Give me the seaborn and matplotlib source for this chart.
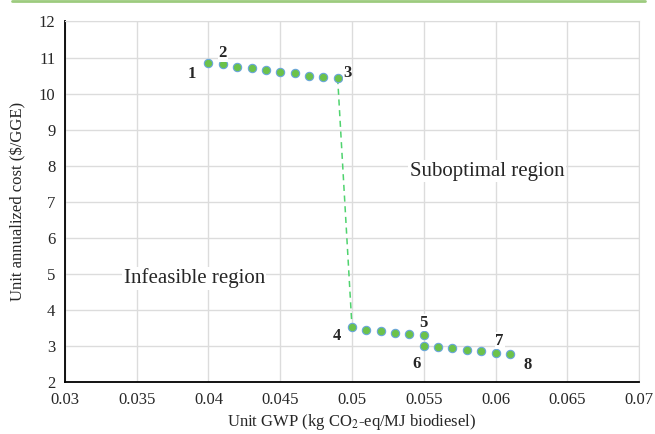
import matplotlib
matplotlib.use("Agg")
import matplotlib.pyplot as plt
import seaborn as sns
import pandas as pd
from matplotlib.lines import Line2D

# Data
gwp_upper = [0.040, 0.041, 0.042, 0.043, 0.044, 0.045, 0.046, 0.047, 0.048, 0.049]
cost_upper = [10.86, 10.81, 10.74, 10.70, 10.66, 10.60, 10.57, 10.50, 10.46, 10.43]
gwp_lower = [0.050, 0.051, 0.052, 0.053, 0.054, 0.055,
             0.055, 0.056, 0.057, 0.058, 0.059, 0.060, 0.061]
cost_lower = [3.52, 3.45, 3.42, 3.36, 3.33, 3.30,
              3.01, 2.97, 2.94, 2.89, 2.85, 2.80, 2.77]
point_labels = ["1", "2", "3", "4", "5", "6", "7", "8"]
label_idx = [("u", 0), ("u", 1), ("u", 9), ("l", 0), ("l", 5), ("l", 6), ("l", 11), ("l", 12)]
label_offsets = [(-12, -8), (0, 8), (7, 4), (-11, -6), (0, 9), (-5, -13), (3, 9), (13, -8)]
x_ticks = [0.03, 0.035, 0.04, 0.045, 0.05, 0.055, 0.06, 0.065, 0.07]
x_tick_labels = ["0.03", "0.035", "0.04", "0.045", "0.05", "0.055", "0.06", "0.065", "0.07"]
y_ticks = list(range(2, 13))

df = pd.DataFrame({"gwp": gwp_upper + gwp_lower, "cost": cost_upper + cost_lower})

sns.set_style("white")
plt.rcParams["font.family"] = ["Liberation Serif", "DejaVu Serif"]
plt.rcParams["mathtext.fontset"] = "stix"

fig = plt.figure(figsize=(6.55, 4.34), dpi=100)
ax = fig.add_axes([0.0992, 0.1198, 0.8764, 0.8307])

# dashed jump
sns.lineplot(x=[gwp_upper[-1], gwp_lower[0]], y=[cost_upper[-1], cost_lower[0]], ax=ax,
             color="#4FD36E", linestyle=(0, (4, 3)), linewidth=1.1, zorder=2)

sns.scatterplot(data=df, x="gwp", y="cost", ax=ax, color="#6CC24A", edgecolor="#6AA6DA",
                linewidth=0.8, s=36, zorder=3)

for lab, (grp, i), (dx, dy) in zip(point_labels, label_idx, label_offsets):
    xx = gwp_upper[i] if grp == "u" else gwp_lower[i]
    yy = cost_upper[i] if grp == "u" else cost_lower[i]
    ax.annotate(lab, (xx, yy), xytext=(dx, dy), textcoords="offset points",
                ha="center", va="center", fontsize=12, fontweight="bold",
                bbox=dict(facecolor="white", edgecolor="none", pad=0.5), zorder=4)

ax.text(0.0390, 4.88, "Infeasible region", fontsize=15, ha="center", va="center",
        bbox=dict(facecolor="white", edgecolor="none", pad=1), zorder=4)
ax.text(0.0594, 7.85, "Suboptimal region", fontsize=15, ha="center", va="center",
        bbox=dict(facecolor="white", edgecolor="none", pad=1), zorder=4)

ax.set_xlim(0.03, 0.07)
ax.set_ylim(2, 12)
ax.set_xticks(x_ticks)
ax.set_xticklabels(x_tick_labels)
ax.set_yticks(y_ticks)
ax.grid(True, color="#DCDCDC", linewidth=1.0)
ax.set_axisbelow(True)
for s in ["top", "right"]:
    ax.spines[s].set_color("#DCDCDC")
for s in ["left", "bottom"]:
    ax.spines[s].set_color("black")
    ax.spines[s].set_linewidth(1.3)
ax.tick_params(direction="in", length=4, width=1, labelsize=12, color="black", pad=7)
ax.set_xlabel("Unit GWP (kg CO$_2$-eq/MJ biodiesel)", fontsize=12, labelpad=3)
ax.set_ylabel("Unit annualized cost ($/GGE)", fontsize=12, labelpad=9)

fig.add_artist(Line2D([12 / 655, 645 / 655], [0.997, 0.997], color="#9DCB7E", linewidth=2,
                      transform=fig.transFigure))

fig.savefig("out.png", dpi=100)
